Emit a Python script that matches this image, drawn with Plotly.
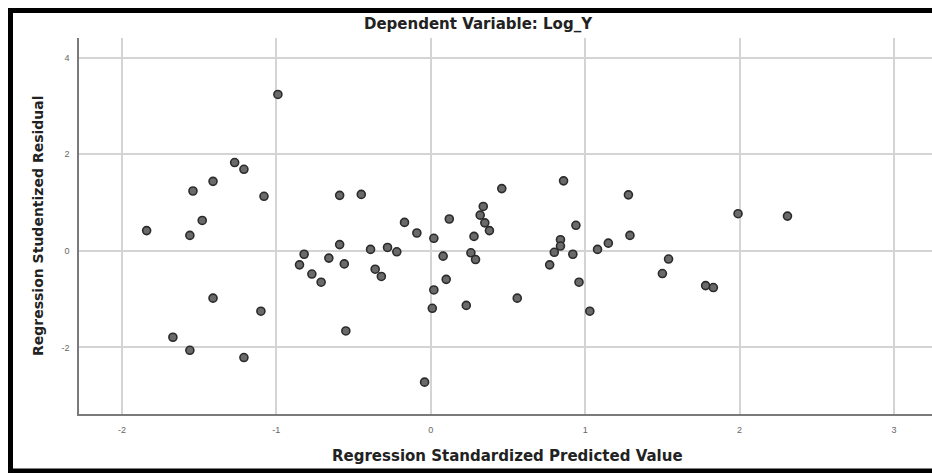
import plotly.graph_objects as go

# Regression Standardized Predicted Value (x) and Studentized Residual (y)
pred_value = [-0.99, -1.27, -1.21, -1.41, -1.54, -1.08, -0.59, -0.45, -1.48, -1.84,
              -1.56, -0.17, -0.09, 0.02, 0.12, -0.82, -0.59, -0.85, -0.66, -0.56,
              -0.39, -0.28, -0.22, -0.77, -0.71, -0.36, -0.32, 0.08, 0.10, 0.02,
              0.01, 0.23, -1.41, -1.10, -0.55, -1.67, -1.56, -1.21, -0.04, 0.56,
              0.77, 0.96, 1.03, 0.46, 0.86, 0.34, 0.32, 0.35, 0.38, 0.28,
              0.26, 0.29, 0.94, 0.84, 0.84, 0.80, 0.92, 1.08, 1.15, 1.28,
              1.29, 1.54, 1.50, 1.78, 1.83, 1.99, 2.31]
stud_resid = [3.24, 1.83, 1.69, 1.44, 1.24, 1.13, 1.15, 1.17, 0.63, 0.42,
              0.32, 0.59, 0.37, 0.26, 0.66, -0.07, 0.13, -0.29, -0.15, -0.27,
              0.03, 0.07, -0.02, -0.48, -0.65, -0.38, -0.53, -0.11, -0.59, -0.81,
              -1.19, -1.13, -0.98, -1.25, -1.66, -1.79, -2.06, -2.21, -2.72, -0.98,
              -0.29, -0.65, -1.25, 1.29, 1.45, 0.92, 0.74, 0.58, 0.42, 0.30,
              -0.04, -0.18, 0.53, 0.23, 0.10, -0.03, -0.07, 0.03, 0.16, 1.16,
              0.32, -0.17, -0.47, -0.72, -0.76, 0.77, 0.72]

x_ticks = [-2, -1, 0, 1, 2, 3]
y_ticks = [-2, 0, 2, 4]

title_text = "Dependent Variable: Log_Y"
x_title = "Regression Standardized Predicted Value"
y_title = "Regression Studentized Residual"

W, H = 932, 473
L, R, T, B = 79, 932, 38, 414
pw, ph = R - L, B - T


def px(v):
    return (v - L) / pw


def py(v):
    return (B - v) / ph


fig = go.Figure()
fig.add_trace(go.Scatter(
    x=pred_value, y=stud_resid, mode="markers",
    marker=dict(size=8, color="#6a6a6a", line=dict(color="#2b2b2b", width=1.6)),
    showlegend=False, hoverinfo="x+y",
))

tick_family = "Liberation Sans, Arial, sans-serif"
title_family = "DejaVu Sans, Verdana, sans-serif"

fig.update_layout(
    width=W, height=H,
    margin=dict(l=L, r=W - R, t=T, b=H - B, pad=0),
    paper_bgcolor="white", plot_bgcolor="white",
    font=dict(family=tick_family, color="#222"),
    xaxis=dict(
        range=[-2.278, 3.246], tickvals=x_ticks, ticktext=[str(v) for v in x_ticks],
        showgrid=True, gridcolor="#d4d4d4", gridwidth=1.5,
        zeroline=False, showline=True, linecolor="#7a7a7a", linewidth=1.5,
        ticks="", tickfont=dict(size=9, color="#666"), ticklabelstandoff=6,
    ),
    yaxis=dict(
        range=[-3.38, 4.41], tickvals=y_ticks, ticktext=[str(v) for v in y_ticks],
        showgrid=True, gridcolor="#d4d4d4", gridwidth=1.5,
        zeroline=False, showline=True, linecolor="#7a7a7a", linewidth=1.5,
        ticks="", tickfont=dict(size=9, color="#666"), ticklabelstandoff=6,
    ),
    annotations=[
        dict(text="<b>" + title_text + "</b>", x=px(478), y=py(24), xref="paper", yref="paper",
             showarrow=False, font=dict(size=15, color="#222", family=title_family),
             xanchor="center", yanchor="middle"),
        dict(text="<b>" + x_title + "</b>", x=px(507), y=py(456), xref="paper", yref="paper",
             showarrow=False, font=dict(size=15, color="#222", family=title_family),
             xanchor="center", yanchor="middle"),
        dict(text="<b>" + y_title + "</b>", x=px(38), y=py(226), xref="paper", yref="paper",
             showarrow=False, font=dict(size=14, color="#222", family=title_family), textangle=-90,
             xanchor="center", yanchor="middle"),
    ],
    shapes=[
        dict(type="rect", xref="paper", yref="paper",
             x0=px(10.5), x1=px(948), y0=py(471), y1=py(10.5),
             line=dict(color="black", width=5), fillcolor="rgba(0,0,0,0)", layer="above"),
    ],
)

fig.write_html("out.html",
               config={"displayModeBar": False},
               post_script="document.body.style.margin='0';document.body.style.overflow='hidden';")
